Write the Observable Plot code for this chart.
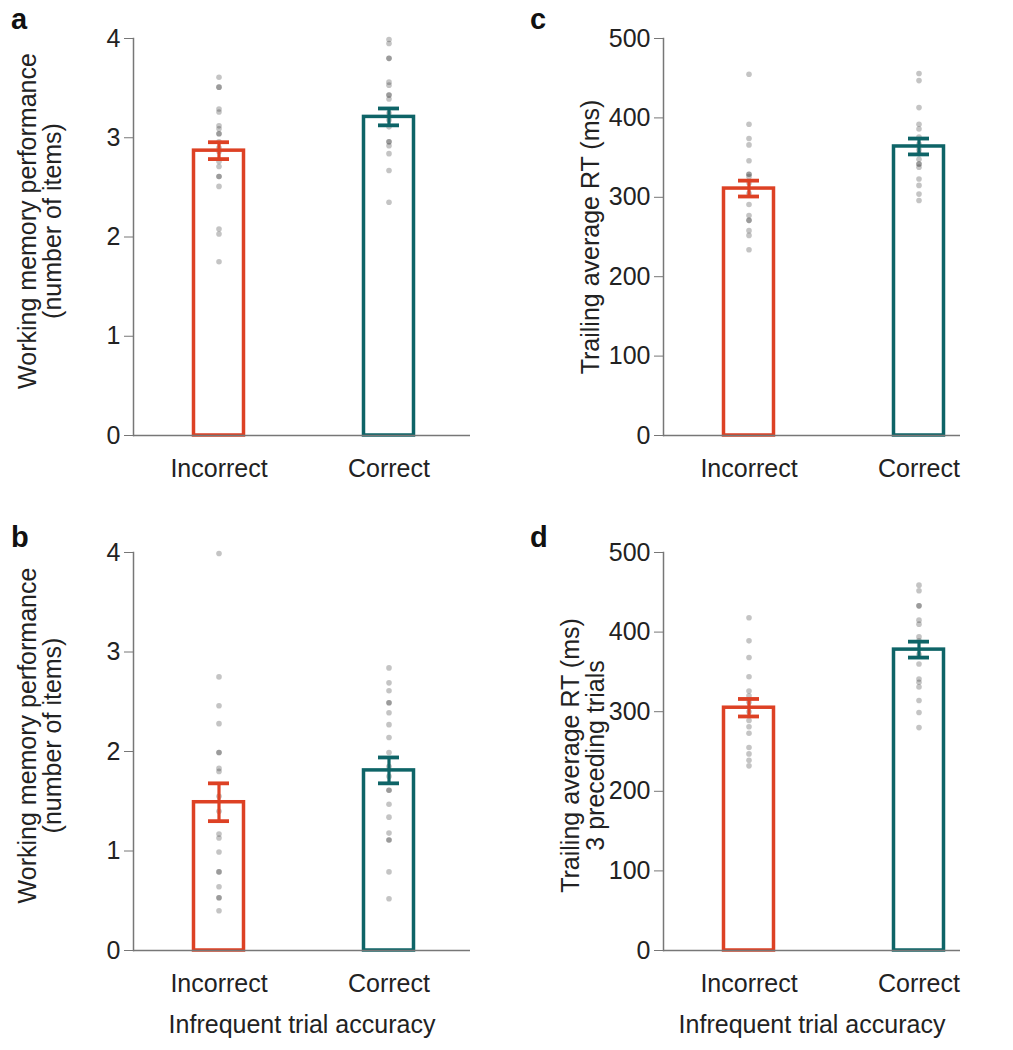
<!DOCTYPE html>
<html><head><meta charset="utf-8">
<script src="https://cdn.jsdelivr.net/npm/d3@7"></script>
<script src="https://cdn.jsdelivr.net/npm/@observablehq/plot@0.6"></script>
<style>
body{margin:0;background:#fff;font-family:"Liberation Sans",Arial,sans-serif;}
#root{position:relative;width:1013px;height:1050px;overflow:hidden;background:#fff;}
.panel{position:absolute;}
.letter{position:absolute;font-weight:bold;font-size:29px;color:#111;line-height:1;font-family:"Liberation Sans",Arial,sans-serif;}
</style></head><body><div id="root"></div>
<script>
const categories = ["Incorrect", "Correct"];
const colors = ["#dd4124", "#0e6467"];

// Panel a: working memory performance
const aMeans = [2.87, 3.21];
const aSems = [0.085, 0.085];
const aIncorrect = [3.61, 3.51, 3.51, 3.29, 3.26, 3.12, 3.09, 3.04, 3.04, 2.96, 2.90, 2.86, 2.76, 2.71, 2.61, 2.61, 2.51, 2.08, 2.03, 1.75];
const aCorrect = [3.99, 3.95, 3.80, 3.80, 3.56, 3.53, 3.43, 3.43, 3.39, 3.25, 3.18, 3.11, 2.96, 2.96, 2.92, 2.84, 2.67, 2.35];

// Panel b: working memory performance (second set)
const bMeans = [1.49, 1.81];
const bSems = [0.19, 0.13];
const bIncorrect = [3.99, 2.75, 2.46, 2.28, 1.99, 1.99, 1.83, 1.80, 1.55, 1.40, 1.17, 1.13, 0.99, 0.79, 0.79, 0.64, 0.53, 0.53, 0.40];
const bCorrect = [2.84, 2.69, 2.61, 2.49, 2.49, 2.39, 2.27, 2.14, 1.99, 1.85, 1.75, 1.61, 1.61, 1.47, 1.34, 1.18, 1.11, 1.11, 0.79, 0.52];

// Panel c: trailing average RT (ms)
const cMeans = [311, 364];
const cSems = [10, 10];
const cIncorrect = [455, 392, 374, 366, 346, 329, 329, 326, 318, 305, 291, 277, 271, 271, 258, 252, 234];
const cCorrect = [456, 447, 413, 392, 386, 376, 367, 360, 355, 348, 342, 342, 338, 323, 315, 304, 296];

// Panel d: trailing average RT (ms), 3 preceding trials
const dMeans = [305, 378];
const dSems = [11, 10];
const dIncorrect = [418, 389, 368, 344, 326, 320, 312, 300, 289, 281, 273, 255, 247, 239, 232];
const dCorrect = [459, 452, 433, 433, 415, 410, 394, 389, 372, 360, 341, 337, 331, 314, 299, 280];

const wmTicks = [0, 1, 2, 3, 4];
const rtTicks = [0, 100, 200, 300, 400, 500];
const xTitle = "Infrequent trial accuracy";

const FS = 25;
const root = document.getElementById("root");

function makePanel(o) {
  const dots = [
    ...o.inc.map(v => ({cat: categories[0], v})),
    ...o.cor.map(v => ({cat: categories[1], v}))
  ];
  const bars = categories.map((c, i) => ({cat: c, mean: o.means[i], lo: o.means[i] - o.sems[i], hi: o.means[i] + o.sems[i]}));
  const marks = [
    Plot.dot(dots, {x: "cat", y: "v", r: 2.8, fill: "#3a3a3a", fillOpacity: 0.3}),
    Plot.barY(bars, {x: "cat", y: "mean", fill: "none", stroke: "cat", strokeWidth: 3.5, insetLeft: 1.5, insetRight: 1.5}),
    Plot.ruleX(bars, {x: "cat", y1: "lo", y2: "hi", stroke: "cat", strokeWidth: 3.2}),
    Plot.tickY(bars, {x: "cat", y: "lo", stroke: "cat", strokeWidth: 3.8, insetLeft: 16, insetRight: 16}),
    Plot.tickY(bars, {x: "cat", y: "hi", stroke: "cat", strokeWidth: 3.8, insetLeft: 16, insetRight: 16}),
    Plot.ruleY([0], {stroke: "#777", strokeWidth: 1.5}),
    Plot.frame({anchor: "left", stroke: "#777", strokeWidth: 1.5}),
    Plot.axisY({ticks: o.ticks, tickFormat: d3.format("d"), tickSize: 9, tickPadding: 4, stroke: "#777", fill: "#222", fontSize: FS, label: null}),
    Plot.axisX({tickSize: 0, tickPadding: 24, fill: "#222", fontSize: FS, label: null}),
    Plot.text([o.ylabel], {text: d => d, frameAnchor: "left", textAnchor: "middle", lineAnchor: "middle", rotate: -90, dx: o.labelDx, dy: o.labelDy, fontSize: FS, lineHeight: 1.0, fill: "#222"})
  ];
  if (o.xlabel) marks.push(Plot.text([o.xlabel], {text: d => d, frameAnchor: "bottom", dy: 82, fontSize: FS, fill: "#222"}));
  const svg = Plot.plot({
    width: o.width, height: o.height,
    marginLeft: o.ml, marginRight: o.mr, marginTop: o.mt, marginBottom: o.mb,
    x: {domain: categories, paddingInner: 0.688, paddingOuter: o.po, align: o.align, axis: null},
    y: {domain: o.domain, axis: null},
    color: {domain: categories, range: colors},
    style: {fontFamily: "'Liberation Sans', Arial, sans-serif", fontSize: FS + "px", color: "#222", background: "transparent", overflow: "visible"},
    marks
  });
  const wrap = document.createElement("div");
  wrap.className = "panel";
  wrap.style.left = o.left + "px";
  wrap.style.top = o.top + "px";
  wrap.appendChild(svg);
  root.appendChild(wrap);
  const L = document.createElement("div");
  L.className = "letter";
  L.textContent = o.letter;
  L.style.left = o.lx + "px";
  L.style.top = o.ly + "px";
  root.appendChild(L);
}

makePanel({letter: "a", lx: 11, ly: 5, left: 0, top: 0, width: 500, height: 520, ml: 133, mr: 30, mt: 38, mb: 85,
  po: 0.335, align: 0.518, domain: [0, 4], ticks: wmTicks, means: aMeans, sems: aSems, inc: aIncorrect, cor: aCorrect,
  ylabel: "Working memory performance\n(number of items)", labelDx: -93, labelDy: -16});
makePanel({letter: "b", lx: 11, ly: 523, left: 0, top: 514, width: 500, height: 536, ml: 133, mr: 30, mt: 38, mb: 100,
  po: 0.335, align: 0.518, domain: [0, 4], ticks: wmTicks, means: bMeans, sems: bSems, inc: bIncorrect, cor: bCorrect,
  ylabel: "Working memory performance\n(number of items)", labelDx: -93, labelDy: -16, xlabel: xTitle});
makePanel({letter: "c", lx: 530, ly: 5, left: 500, top: 0, width: 513, height: 520, ml: 163, mr: 53, mt: 38, mb: 85,
  po: 0.2175, align: 0.797, domain: [0, 500], ticks: rtTicks, means: cMeans, sems: cSems, inc: cIncorrect, cor: cCorrect,
  ylabel: "Trailing average RT (ms)", labelDx: -73, labelDy: 0});
makePanel({letter: "d", lx: 530, ly: 523, left: 500, top: 514, width: 513, height: 536, ml: 163, mr: 53, mt: 38, mb: 100,
  po: 0.2175, align: 0.797, domain: [0, 500], ticks: rtTicks, means: dMeans, sems: dSems, inc: dIncorrect, cor: dCorrect,
  ylabel: "Trailing average RT (ms)\n3 preceding trials", labelDx: -80, labelDy: 4, xlabel: xTitle});
</script>
</body></html>
